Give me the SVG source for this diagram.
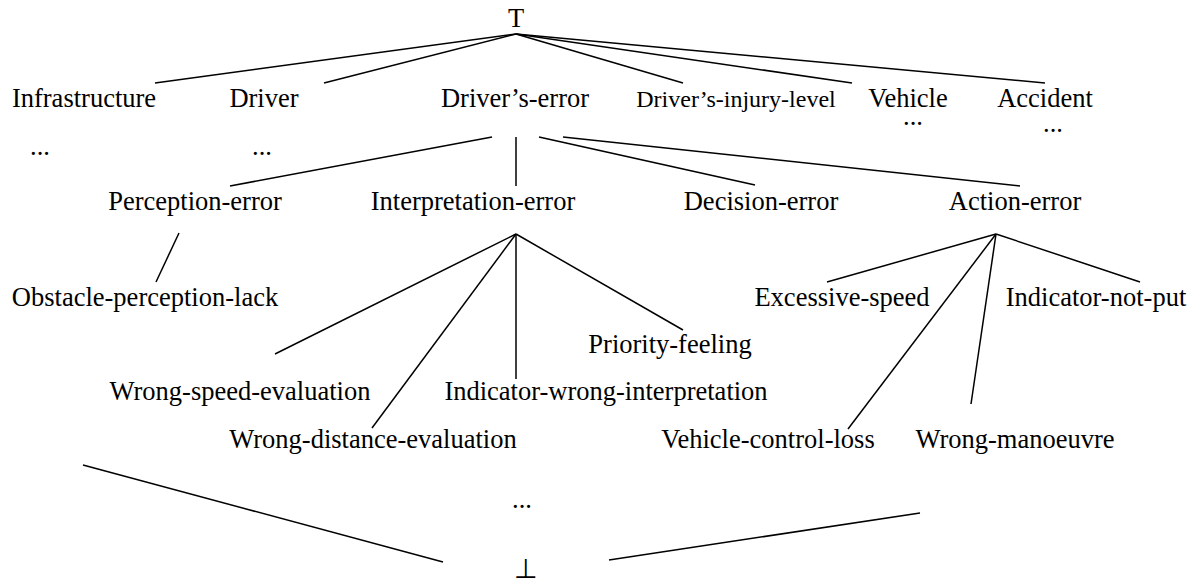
<svg xmlns="http://www.w3.org/2000/svg" width="1195" height="584" viewBox="0 0 1195 584">
<style>
text{font-family:"Liberation Serif","Times New Roman",serif;font-size:26.5px;fill:#000;text-anchor:middle}
.sm{font-size:24px}
#connectors line{stroke:#000;stroke-width:1.5;fill:none}
</style>
<rect width="1195" height="584" fill="#fff"/>
<g id="connectors">
<line x1="516" y1="34" x2="155" y2="83"/>
<line x1="516" y1="34" x2="324" y2="83"/>
<line x1="516" y1="34" x2="683" y2="83"/>
<line x1="516" y1="34" x2="852" y2="83"/>
<line x1="516" y1="34" x2="1045" y2="83"/>
<line x1="492" y1="137" x2="230" y2="186"/>
<line x1="516" y1="137" x2="516" y2="186"/>
<line x1="539" y1="137" x2="755" y2="185"/>
<line x1="563" y1="137" x2="1020" y2="186"/>
<line x1="179" y1="233" x2="156" y2="282"/>
<line x1="516" y1="234" x2="275" y2="354"/>
<line x1="516" y1="234" x2="372" y2="428"/>
<line x1="516" y1="234" x2="516" y2="379"/>
<line x1="516" y1="234" x2="683" y2="330"/>
<line x1="996" y1="234" x2="827" y2="282"/>
<line x1="996" y1="234" x2="848" y2="429"/>
<line x1="996" y1="234" x2="971" y2="404"/>
<line x1="996" y1="234" x2="1140" y2="282"/>
<line x1="83" y1="465" x2="443" y2="562"/>
<line x1="609" y1="560" x2="920" y2="513"/>
</g>
<g id="n-top"><text x="516" y="27">T</text></g>
<g id="n-infrastructure"><text x="84" y="107">Infrastructure</text><text x="40" y="155">...</text></g>
<g id="n-driver"><text x="264" y="107">Driver</text><text x="262" y="155">...</text></g>
<g id="n-drivers-error"><text x="515" y="107">Driver’s-error</text></g>
<g id="n-injury"><text class="sm" x="736" y="107">Driver’s-injury-level</text></g>
<g id="n-vehicle"><text x="908" y="107">Vehicle</text><text x="913" y="125">...</text></g>
<g id="n-accident"><text x="1045" y="107">Accident</text><text x="1053" y="132">...</text></g>
<g id="n-perception"><text x="195" y="210">Perception-error</text></g>
<g id="n-interpretation"><text x="473" y="210">Interpretation-error</text></g>
<g id="n-decision"><text x="761" y="210">Decision-error</text></g>
<g id="n-action"><text x="1015" y="210">Action-error</text></g>
<g id="n-obstacle"><text x="145" y="306">Obstacle-perception-lack</text></g>
<g id="n-excessive"><text x="842" y="306">Excessive-speed</text></g>
<g id="n-indicator-not-put"><text x="1096" y="306">Indicator-not-put</text></g>
<g id="n-priority"><text x="670" y="353">Priority-feeling</text></g>
<g id="n-wrong-speed"><text x="240" y="400">Wrong-speed-evaluation</text></g>
<g id="n-indicator-wrong"><text x="606" y="400">Indicator-wrong-interpretation</text></g>
<g id="n-wrong-distance"><text x="373" y="448">Wrong-distance-evaluation</text></g>
<g id="n-control-loss"><text x="768" y="448">Vehicle-control-loss</text></g>
<g id="n-manoeuvre"><text x="1015" y="448">Wrong-manoeuvre</text></g>
<g id="n-dots"><text x="522" y="508">...</text></g>
<g id="n-bottom"><text x="526" y="578">⊥</text></g>
</svg>
